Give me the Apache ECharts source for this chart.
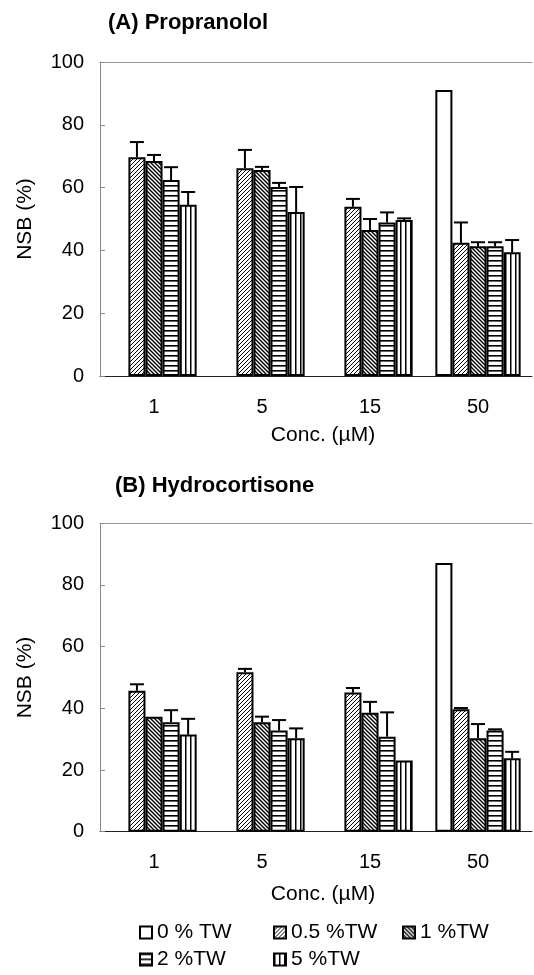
<!DOCTYPE html>
<html><head><meta charset="utf-8">
<script src="https://cdn.jsdelivr.net/npm/echarts@6/dist/echarts.min.js"></script>
<style>html,body{margin:0;padding:0;background:#fff}#c{width:534px;height:975px}</style>
</head><body><div id="c"></div>
<script>
// ---------- DATA ----------
const categories = ['1', '5', '15', '50'];
const seriesNames = ['0 % TW', '0.5 %TW', '1 %TW', '2 %TW', '5 %TW'];
const yTicks = [0, 20, 40, 60, 80, 100];

// (A) Propranolol: mean NSB (%) and upper error (SD)
const propTW0   = [null, null, null, 91.1];
const propTW05  = [69.7, 66.2, 53.9, 42.4];
const propTW1   = [68.5, 65.6, 46.5, 41.3];
const propTW2   = [62.4, 60.2, 48.9, 41.3];
const propTW5   = [54.5, 52.2, 49.7, 39.4];
const propErr0  = [null, null, null, 0];
const propErr05 = [4.8, 5.8, 2.5, 6.5];
const propErr1  = [1.9, 1.0, 3.5, 1.3];
const propErr2  = [4.1, 1.3, 3.2, 1.3];
const propErr5  = [4.1, 8.0, 0.5, 3.9];

// (B) Hydrocortisone
const hydTW0   = [null, null, null, 87.1];
const hydTW05  = [45.7, 51.7, 45.1, 39.7];
const hydTW1   = [37.3, 35.5, 38.6, 30.3];
const hydTW2   = [35.5, 32.8, 30.8, 32.8];
const hydTW5   = [31.5, 30.3, 23.1, 23.8];
const hydErr0  = [null, null, null, 0];
const hydErr05 = [2.1, 1.1, 1.5, 0.4];
const hydErr1  = [0, 1.8, 3.5, 4.6];
const hydErr2  = [3.9, 3.4, 7.9, 0.4];
const hydErr5  = [5.1, 3.2, 0, 2.1];

// ---------- STYLE ----------
const FONT = 'Liberation Sans, Arial, sans-serif';
const CAT_GAP = 0.21;

function makePattern(type) {
  const c = document.createElement('canvas');
  let w = 4, h = 4;
  if (type === 'horiz') { w = 4; h = 5; }
  if (type === 'vert') { w = 5; h = 4; }
  c.width = w; c.height = h;
  const ctx = c.getContext('2d');
  ctx.fillStyle = '#ffffff';
  ctx.fillRect(0, 0, w, h);
  ctx.strokeStyle = '#000000';
  ctx.fillStyle = '#000000';
  if (type === 'fwd') {
    ctx.lineWidth = 1;
    ctx.beginPath();
    ctx.moveTo(-1, 5); ctx.lineTo(5, -1);
    ctx.moveTo(-1, 1); ctx.lineTo(1, -1);
    ctx.moveTo(3, 5); ctx.lineTo(5, 3);
    ctx.stroke();
  } else if (type === 'back') {
    ctx.lineWidth = 1.4;
    ctx.beginPath();
    ctx.moveTo(-1, -1); ctx.lineTo(5, 5);
    ctx.moveTo(3, -1); ctx.lineTo(5, 1);
    ctx.moveTo(-1, 3); ctx.lineTo(1, 5);
    ctx.stroke();
  } else if (type === 'horiz') {
    ctx.fillRect(0, 0, w, 1.6);
  } else if (type === 'vert') {
    ctx.fillRect(0, 0, 1.5, h);
  }
  return { image: c, repeat: 'repeat' };
}
const fills = ['#ffffff', makePattern('fwd'), makePattern('back'), makePattern('horiz'), makePattern('vert')];

const grids = [
  { left: 100, width: 432, top: 62, height: 314 },
  { left: 100, width: 432, top: 523.3, height: 308.4 }
];
const panels = [
  { title: '(A) Propranolol', tLeft: 108, tTop: 12, nameGap: 49,
    vals: [propTW0, propTW05, propTW1, propTW2, propTW5],
    errs: [propErr0, propErr05, propErr1, propErr2, propErr5] },
  { title: '(B) Hydrocortisone', tLeft: 115, tTop: 475, nameGap: 52,
    vals: [hydTW0, hydTW05, hydTW1, hydTW2, hydTW5],
    errs: [hydErr0, hydErr05, hydErr1, hydErr2, hydErr5] }
];

const xAxes = [], yAxes = [], series = [], titles = [];
panels.forEach((p, gi) => {
  titles.push({ text: p.title, left: p.tLeft, top: p.tTop, padding: 0,
    textStyle: { fontFamily: FONT, fontSize: 22, fontWeight: 'bold', color: '#000' } });
  xAxes.push({
    type: 'category', gridIndex: gi, data: categories,
    name: 'Conc. (µM)', nameLocation: 'middle', nameGap: p.nameGap,
    nameTextStyle: { fontFamily: FONT, fontSize: 21, color: '#000', padding: [0, 0, 0, 14] },
    axisLine: { lineStyle: { color: '#222', width: 1 } },
    axisTick: { inside: true, length: 5, lineStyle: { color: '#777' } },
    axisLabel: { fontFamily: FONT, fontSize: 20, color: '#000', margin: 21 }
  });
  // top frame line
  xAxes.push({
    type: 'category', gridIndex: gi, data: categories, position: 'top',
    axisLine: { lineStyle: { color: '#999', width: 1 } },
    axisTick: { show: false }, axisLabel: { show: false }
  });
  yAxes.push({
    type: 'value', gridIndex: gi, min: 0, max: 100, interval: 20,
    name: 'NSB (%)', nameLocation: 'middle', nameGap: 64,
    nameTextStyle: { fontFamily: FONT, fontSize: 21, color: '#000' },
    axisLine: { show: true, lineStyle: { color: '#888', width: 1 } },
    axisTick: { show: true, inside: true, length: 5, lineStyle: { color: '#888' } },
    splitLine: { show: false },
    axisLabel: { fontFamily: FONT, fontSize: 20, color: '#000', margin: 16,
      customValues: yTicks }
  });
  const errData = [];
  p.vals.forEach((vals, si) => {
    series.push({
      type: 'bar', name: seriesNames[si],
      xAxisIndex: gi * 2, yAxisIndex: gi,
      data: vals, barGap: '0%', barCategoryGap: (CAT_GAP * 100) + '%',
      itemStyle: { color: fills[si], borderColor: '#000', borderWidth: 2 },
      emphasis: { disabled: true }, animation: false
    });
    vals.forEach((v, ci) => {
      if (v != null && p.errs[si][ci] > 0) errData.push([ci, si, v, v + p.errs[si][ci]]);
    });
  });
  series.push({
    type: 'custom', name: 'err' + gi, xAxisIndex: gi * 2, yAxisIndex: gi,
    data: errData, encode: { x: 0, y: [2, 3] }, animation: false, silent: true, z: 5,
    renderItem: function (params, api) {
      const ci = api.value(0), si = api.value(1);
      const base = api.coord([ci, api.value(2)]);
      const top = api.coord([ci, api.value(3)]);
      const band = api.size([1, 0])[0];
      const groupW = band * (1 - CAT_GAP);
      const bw = groupW / 5;
      const x = base[0] - groupW / 2 + bw * (si + 0.5);
      const st = { stroke: '#000', lineWidth: 2 };
      return { type: 'group', children: [
        { type: 'line', shape: { x1: x, y1: base[1], x2: x, y2: top[1] }, style: st },
        { type: 'line', shape: { x1: x - 7, y1: top[1], x2: x + 7, y2: top[1] }, style: st }
      ] };
    }
  });
});

const legendStyle = { fontFamily: FONT, fontSize: 21, color: '#000' };
const legends = [
  { data: ['0 % TW', '2 %TW'], left: 139 },
  { data: ['0.5 %TW', '5 %TW'], left: 273 },
  { data: ['1 %TW'], left: 402 }
].map(l => ({
  data: l.data, left: l.left, top: 922, orient: 'vertical', padding: 0,
  itemGap: 6, itemWidth: 12, itemHeight: 12, icon: 'rect',
  selectedMode: false, textStyle: legendStyle
}));

const chart = echarts.init(document.getElementById('c'), null, { renderer: 'canvas' });
chart.setOption({
  backgroundColor: '#fff',
  animation: false,
  title: titles,
  grid: grids,
  xAxis: xAxes,
  yAxis: yAxes,
  legend: legends,
  series: series
});
</script>
</body></html>
